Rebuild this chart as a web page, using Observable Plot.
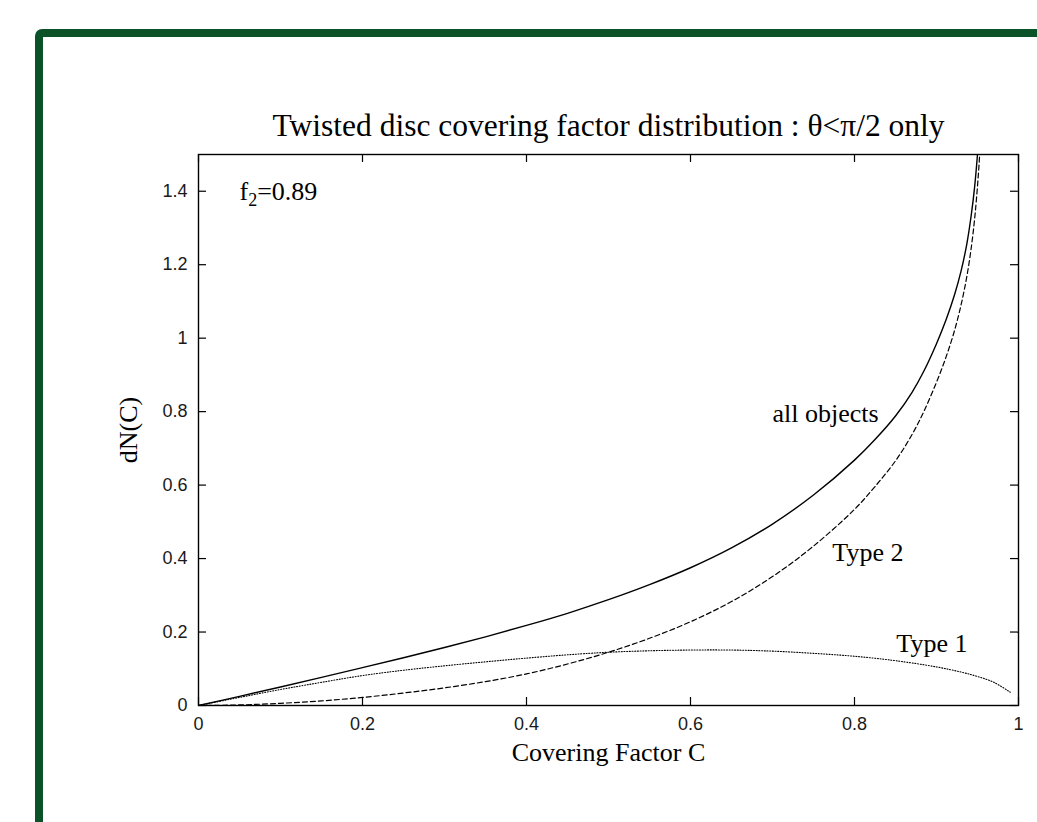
<!DOCTYPE html>
<html><head><meta charset="utf-8">
<script src="https://cdn.jsdelivr.net/npm/d3@7"></script>
<script src="https://cdn.jsdelivr.net/npm/@observablehq/plot@0.6"></script>
<style>
html,body{margin:0;padding:0;background:#fff;overflow:hidden;width:1037px;height:822px;}
#border{position:absolute;left:35px;top:29px;width:1200px;height:1000px;border:8px solid #0b5229;border-radius:7px;box-sizing:border-box;}
#chart{position:absolute;left:0;top:0;}
</style></head><body>
<div id="border"></div><div id="chart"></div>
<script>
// ---- data ----
const titleText = "Twisted disc covering factor distribution : θ<π/2 only";
const xLabel = "Covering Factor C";
const yLabel = "dN(C)";
const xTicks = [0, 0.2, 0.4, 0.6, 0.8, 1];
const yTicks = [0, 0.2, 0.4, 0.6, 0.8, 1, 1.2, 1.4];

// all objects (solid)
const allX = [0,0.05,0.1,0.15,0.2,0.25,0.3,0.35,0.4,0.45,0.5,0.55,0.6,0.65,0.7,0.75,0.8,0.825,0.85,0.87,0.8845,0.9,0.912,0.922,0.93,0.937,0.9423,0.9465,0.9495,0.951];
const allY = [0,0.025,0.0505,0.0765,0.103,0.13,0.158,0.187,0.218,0.251,0.288,0.329,0.375,0.429,0.494,0.573,0.668,0.724,0.788,0.852,0.91,0.985,1.052,1.118,1.183,1.257,1.334,1.412,1.487,1.53];

// Type 2 (dashed)
const type2X = [0,0.05,0.1,0.15,0.2,0.25,0.3,0.35,0.4,0.45,0.5,0.55,0.6,0.65,0.7,0.75,0.8,0.825,0.85,0.87,0.8845,0.9,0.912,0.922,0.93,0.937,0.9423,0.9465,0.9495,0.9515,0.953,0.954];
const type2Y = [0,0.0015,0.006,0.0125,0.022,0.034,0.048,0.065,0.086,0.113,0.145,0.183,0.228,0.283,0.351,0.434,0.534,0.596,0.666,0.737,0.8,0.88,0.951,1.021,1.091,1.168,1.245,1.325,1.4,1.46,1.513,1.55];

// Type 1 (dotted)
const type1X = [0,0.05,0.1,0.15,0.2,0.25,0.3,0.35,0.4,0.45,0.5,0.55,0.6,0.65,0.7,0.75,0.8,0.85,0.9,0.93,0.95,0.97,0.99];
const type1Y = [0,0.022,0.0435,0.063,0.0815,0.096,0.108,0.119,0.129,0.138,0.145,0.149,0.151,0.151,0.148,0.142,0.134,0.122,0.105,0.091,0.079,0.063,0.036];

const labelText = ["f₂=0.89", "all objects", "Type 2", "Type 1"];
const labelC    = [0.05, 0.7, 0.773, 0.851];
const labelV    = [1.4, 0.794, 0.417, 0.168];

// ---- layout ----
const W = 1037, H = 822, mL = 198, mR = 19, mT = 154, mB = 117;
const fw = W - mL - mR, fh = H - mT - mB, tickLen = 8;
const serif = "'Liberation Serif','Times New Roman',serif";
const sans = "'Liberation Sans',Arial,Helvetica,sans-serif";
const rows = (xs, ys) => xs.map((x, i) => ({x, y: ys[i]}));
const labels = labelText.map((t, i) => ({t, x: labelC[i], y: labelV[i]}));

const chart = Plot.plot({
  width: W, height: H,
  marginLeft: mL, marginRight: mR, marginTop: mT, marginBottom: mB,
  style: {background: "transparent", fontFamily: sans, fontSize: "18px", color: "#000"},
  x: {domain: [0, 1]},
  y: {domain: [0, 1.5]},
  marks: [
    Plot.line(rows(type1X, type1Y), {x: "x", y: "y", stroke: "#000", strokeWidth: 1.1, strokeDasharray: "1,1.7", curve: "catmull-rom", clip: true}),
    Plot.line(rows(type2X, type2Y), {x: "x", y: "y", stroke: "#000", strokeWidth: 1.2, strokeDasharray: "5,3", curve: "catmull-rom", clip: true}),
    Plot.line(rows(allX, allY), {x: "x", y: "y", stroke: "#000", strokeWidth: 1.4, curve: "catmull-rom", clip: true}),
    Plot.tickX(xTicks, {x: d => d, insetTop: fh - tickLen, stroke: "#000", strokeWidth: 1.2}),
    Plot.tickX(xTicks, {x: d => d, insetBottom: fh - tickLen, stroke: "#000", strokeWidth: 1.2}),
    Plot.tickY(yTicks, {y: d => d, insetRight: fw - tickLen, stroke: "#000", strokeWidth: 1.2}),
    Plot.tickY(yTicks, {y: d => d, insetLeft: fw - tickLen, stroke: "#000", strokeWidth: 1.2}),
    Plot.axisX(xTicks, {tickSize: 0, tickPadding: 12, fontSize: 18, fill: "#1a1a1a", tickFormat: d => String(d), label: null}),
    Plot.axisY(yTicks, {tickSize: 0, tickPadding: 11, fontSize: 18, fill: "#1a1a1a", tickFormat: d => String(d), label: null}),
    Plot.frame({stroke: "#000", strokeWidth: 1.4}),
    Plot.text(labels, {x: "x", y: "y", text: "t", textAnchor: "start", lineAnchor: "middle", fontSize: 26, fontFamily: serif, fill: "#000"}),
    Plot.text([titleText], {text: d => d, frameAnchor: "top", lineAnchor: "middle", textAnchor: "middle", dy: -29, fontSize: 31.5, fontFamily: serif, fill: "#000"}),
    Plot.text([xLabel], {text: d => d, frameAnchor: "bottom", lineAnchor: "middle", textAnchor: "middle", dy: 47, fontSize: 26, fontFamily: serif, fill: "#000"}),
    Plot.text([yLabel], {text: d => d, frameAnchor: "left", lineAnchor: "middle", textAnchor: "middle", dx: -70, rotate: -90, fontSize: 26, fontFamily: serif, fill: "#000"})
  ]
});
document.getElementById("chart").appendChild(chart);

// render the subscript of f₂ as a real lowered, smaller "2"
chart.querySelectorAll("text").forEach(t => {
  if (t.textContent.includes("₂")) {
    const [a, b] = t.textContent.split("₂");
    while (t.firstChild) t.removeChild(t.firstChild);
    const ns = "http://www.w3.org/2000/svg";
    const s1 = document.createElementNS(ns, "tspan"); s1.textContent = a;
    const s2 = document.createElementNS(ns, "tspan"); s2.textContent = "2";
    s2.setAttribute("font-size", "18"); s2.setAttribute("dy", "6");
    const s3 = document.createElementNS(ns, "tspan"); s3.textContent = b;
    s3.setAttribute("dy", "-6");
    t.append(s1, s2, s3);
  }
});
</script>
</body></html>
